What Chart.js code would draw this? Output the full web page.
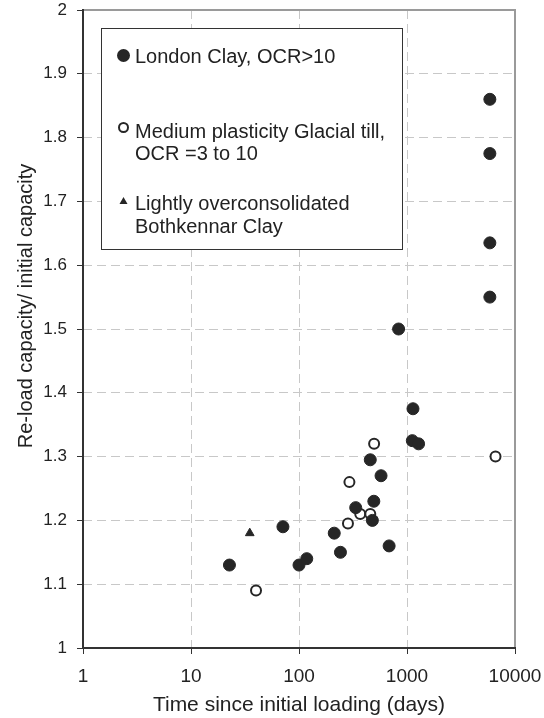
<!DOCTYPE html>
<html>
<head>
<meta charset="utf-8">
<script src="https://cdn.jsdelivr.net/npm/chart.js@4"></script>
<style>
  html, body { margin: 0; padding: 0; background: #fff; }
</style>
</head>
<body>
<canvas id="myChart" width="544" height="718"></canvas>
<script>
// tick values
var xTicks = [1, 10, 100, 1000, 10000];
var yTicks = [1, 1.1, 1.2, 1.3, 1.4, 1.5, 1.6, 1.7, 1.8, 1.9, 2];

// London Clay, OCR>10 (filled circles)
var londonDays = [22.7, 71, 100, 118, 212, 242, 335, 457, 478, 493, 575, 683, 836, 1120, 1136, 1280, 5850, 5850, 5850, 5850];
var londonRatio = [1.13, 1.19, 1.13, 1.14, 1.18, 1.15, 1.22, 1.295, 1.20, 1.23, 1.27, 1.16, 1.50, 1.325, 1.375, 1.32, 1.55, 1.635, 1.775, 1.86];

// Medium plasticity Glacial till (open circles)
var tillDays = [40, 284, 293, 369, 457, 496, 6600];
var tillRatio = [1.09, 1.195, 1.26, 1.21, 1.21, 1.32, 1.30];

// Bothkennar Clay (triangle)
var bothDays = [35];
var bothRatio = [1.18];

var seriesNames = [
    ['London Clay, OCR>10'],
    ['Medium plasticity Glacial till,', 'OCR =3 to 10'],
    ['Lightly overconsolidated', 'Bothkennar Clay']
];
var yTitle = 'Re-load capacity/ initial capacity';
var xTitle = 'Time since initial loading (days)';

function pts(xs, ys) {
    return xs.map(function (x, i) { return {x: x, y: ys[i]}; });
}

var ink = '#262626';
var FONT = '"Liberation Sans", Arial, sans-serif';

// frame, y title and legend box drawn on top of the chart
var framePlugin = {
    id: 'frame',
    afterDraw: function (chart) {
        var c = chart.ctx, a = chart.chartArea;
        c.save();
        c.lineWidth = 2;
        c.strokeStyle = '#9a9a9a';
        c.beginPath();
        c.moveTo(a.left, a.top); c.lineTo(a.right, a.top); c.lineTo(a.right, a.bottom);
        c.stroke();
        c.strokeStyle = '#333';
        c.beginPath();
        c.moveTo(a.left, a.top - 1); c.lineTo(a.left, a.bottom); c.lineTo(a.right + 1, a.bottom);
        c.stroke();

        // y axis title (sits a bit above the axis middle in the original)
        c.save();
        c.translate(26, 306);
        c.rotate(-Math.PI / 2);
        c.font = '20px ' + FONT;
        c.fillStyle = '#222';
        c.textAlign = 'center';
        c.textBaseline = 'middle';
        c.fillText(yTitle, 0, 0);
        c.restore();

        // legend
        c.fillStyle = '#fff';
        c.fillRect(101, 28, 302, 222);
        c.lineWidth = 1;
        c.strokeStyle = '#333';
        c.strokeRect(101.5, 28.5, 301, 221);

        c.font = '20px ' + FONT;
        c.fillStyle = '#222';
        c.textBaseline = 'middle';
        var rows = [[57], [132, 154], [204, 227]];
        seriesNames.forEach(function (lines, i) {
            lines.forEach(function (t, j) { c.fillText(t, 135, rows[i][j]); });
        });

        c.fillStyle = ink;
        c.beginPath(); c.arc(123.5, 55.5, 6.5, 0, Math.PI * 2); c.fill();

        c.lineWidth = 2; c.strokeStyle = ink; c.fillStyle = '#fff';
        c.beginPath(); c.arc(123.5, 127.5, 4.5, 0, Math.PI * 2); c.fill(); c.stroke();

        c.fillStyle = ink;
        c.beginPath(); c.moveTo(123.5, 197); c.lineTo(127.5, 204); c.lineTo(119.5, 204); c.closePath(); c.fill();
        c.restore();
    }
};

var ctx = document.getElementById('myChart').getContext('2d');

var chart = new Chart(ctx, {
    type: 'scatter',
    data: {
        datasets: [{
            label: seriesNames[0].join(' '),
            data: pts(londonDays, londonRatio),
            pointStyle: 'circle',
            pointRadius: 6,
            pointBorderWidth: 1,
            backgroundColor: ink,
            borderColor: ink
        }, {
            label: seriesNames[1].join(' '),
            data: pts(tillDays, tillRatio),
            pointStyle: 'circle',
            pointRadius: 5,
            pointBorderWidth: 2,
            backgroundColor: '#fff',
            borderColor: ink
        }, {
            label: seriesNames[2].join(' '),
            data: pts(bothDays, bothRatio),
            pointStyle: 'triangle',
            pointRadius: 5,
            pointBorderWidth: 1,
            backgroundColor: ink,
            borderColor: ink
        }]
    },
    options: {
        responsive: false,
        animation: false,
        devicePixelRatio: 1,
        layout: { padding: { left: 0, right: 29, top: 10, bottom: 0 } },
        plugins: {
            legend: { display: false },
            tooltip: { enabled: false }
        },
        scales: {
            x: {
                type: 'logarithmic',
                min: 1,
                max: 10000,
                afterBuildTicks: function (scale) {
                    scale.ticks = xTicks.map(function (v) { return {value: v}; });
                },
                afterFit: function (scale) {
                    scale.height = 70;
                    // labels may hang past the plot, don't let them shrink it
                    scale.paddingLeft = 0;
                    scale.paddingRight = 0;
                },
                ticks: {
                    color: '#222',
                    font: { family: FONT, size: 19 },
                    padding: 11,
                    maxRotation: 0,
                    callback: function (v) { return String(v); }
                },
                grid: {
                    color: '#c8c8c8',
                    lineWidth: 1,
                    tickLength: 6,
                    tickColor: '#333',
                    tickWidth: 1,
                    tickBorderDash: []
                },
                border: { display: false, dash: [9, 5] },
                title: {
                    display: true,
                    text: xTitle,
                    color: '#222',
                    font: { family: FONT, size: 21 },
                    padding: { top: 2, bottom: 0 }
                }
            },
            y: {
                min: 1,
                max: 2,
                afterBuildTicks: function (scale) {
                    scale.ticks = yTicks.map(function (v) { return {value: v}; });
                },
                afterFit: function (scale) {
                    scale.width = 83;
                    scale.paddingTop = 0;
                    scale.paddingBottom = 0;
                },
                ticks: {
                    color: '#222',
                    font: { family: FONT, size: 17 },
                    padding: 10,
                    callback: function (v) { return String(Math.round(v * 10) / 10); }
                },
                grid: {
                    color: '#c8c8c8',
                    lineWidth: 1,
                    tickLength: 6,
                    tickColor: '#333',
                    tickWidth: 1,
                    tickBorderDash: []
                },
                border: { display: false, dash: [9, 5] },
                title: { display: false }
            }
        }
    },
    plugins: [framePlugin]
});
</script>
</body>
</html>
